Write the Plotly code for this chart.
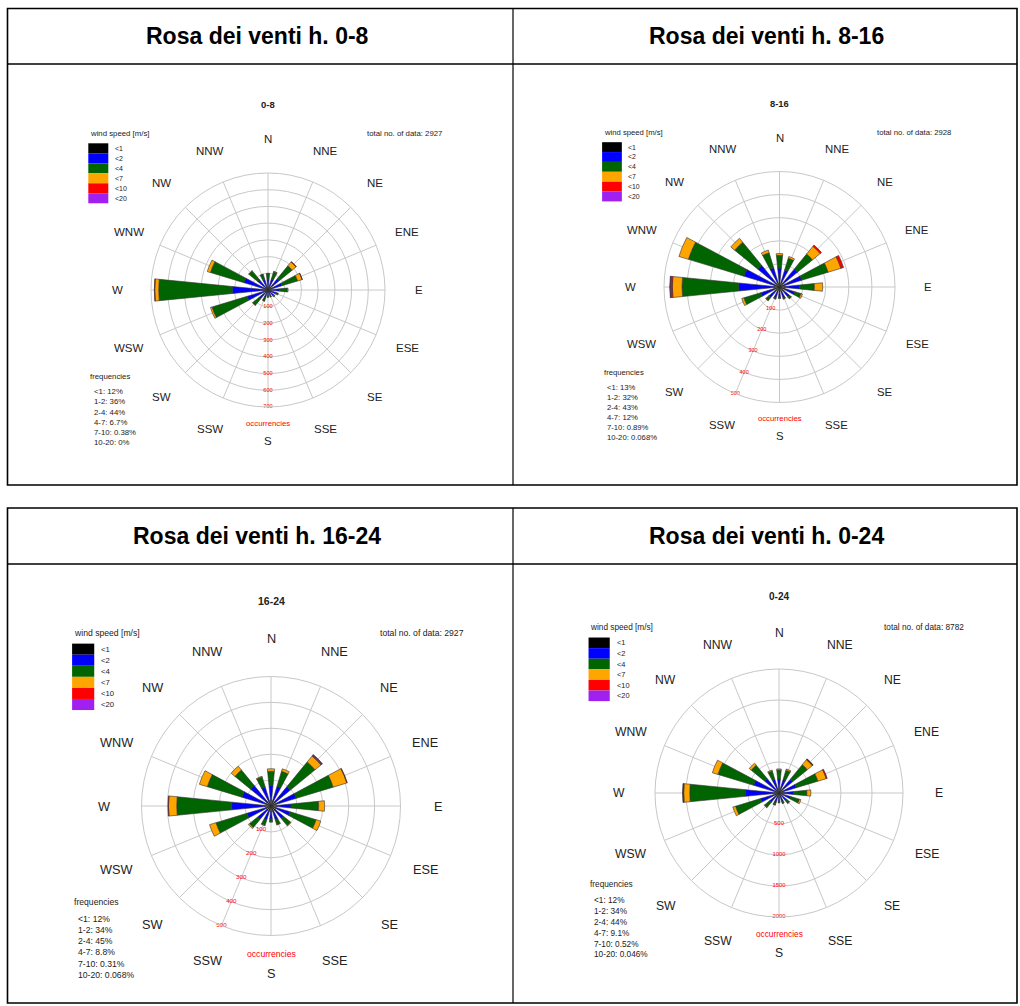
import math
import plotly.graph_objects as go

# ---------------- data ----------------
directions = ["N", "NNE", "NE", "ENE", "E", "ESE", "SE", "SSE",
              "S", "SSW", "SW", "WSW", "W", "WNW", "NW", "NNW"]
dir_angles = [0, 22.5, 45, 67.5, 90, 112.5, 135, 157.5,
              180, 202.5, 225, 247.5, 270, 292.5, 315, 337.5]

speed_labels = ["<1", "<2", "<4", "<7", "<10", "<20"]
freq_classes = ["<1", "1-2", "2-4", "4-7", "7-10", "10-20"]
speed_colors = ["#000000", "#0000ff", "#006400", "#ffa500", "#ff0000", "#a020f0"]

header_titles = ["Rosa dei venti h. 0-8", "Rosa dei venti h. 8-16",
                 "Rosa dei venti h. 16-24", "Rosa dei venti h. 0-24"]
rose_titles = ["0-8", "8-16", "16-24", "0-24"]
totals = [2927, 2928, 2927, 8782]

# occurrences per direction, per speed class (counts)
h0_8_lt1 = [20, 20, 22, 22, 20, 18, 17, 15, 15, 17, 20, 22, 24, 22, 20, 20]
h0_8_1_2 = [45, 50, 65, 65, 50, 32, 28, 23, 23, 33, 48, 108, 190, 128, 60, 45]
h0_8_2_4 = [33, 44, 100, 98, 45, 15, 10, 7, 7, 19, 50, 220, 440, 210, 68, 33]
h0_8_4_7 = [2, 3, 30, 28, 5, 0, 0, 0, 0, 1, 2, 10, 24, 20, 2, 2]
h0_8_7_10 = [0, 0, 3, 2, 0, 0, 0, 0, 0, 0, 0, 0, 2, 0, 0, 0]
h0_8_10_20 = [0, 0, 0, 0, 0, 0, 0, 0, 0, 0, 0, 0, 0, 0, 0, 0]

h8_16_lt1 = [24, 24, 24, 24, 24, 24, 24, 24, 24, 24, 24, 24, 24, 24, 24, 24]
h8_16_1_2 = [58, 53, 76, 76, 63, 45, 32, 25, 23, 25, 35, 60, 153, 136, 97, 63]
h8_16_2_4 = [55, 53, 85, 120, 64, 28, 10, 5, 3, 5, 17, 77, 245, 252, 130, 68]
h8_16_4_7 = [8, 8, 43, 58, 36, 7, 1, 1, 0, 1, 2, 10, 42, 43, 22, 12]
h8_16_7_10 = [0, 0, 7, 12, 0, 0, 0, 0, 0, 0, 0, 0, 9, 0, 0, 0]
h8_16_10_20 = [0, 0, 0, 0, 0, 0, 0, 0, 0, 0, 0, 0, 2, 0, 0, 0]

h16_24_lt1 = [22, 22, 22, 22, 22, 22, 22, 22, 22, 22, 22, 22, 22, 22, 22, 22]
h16_24_1_2 = [58, 58, 75, 80, 55, 55, 40, 33, 28, 33, 45, 75, 130, 95, 80, 55]
h16_24_2_4 = [54, 60, 123, 149, 107, 105, 36, 20, 11, 23, 41, 125, 212, 140, 78, 40]
h16_24_4_7 = [10, 10, 30, 55, 23, 19, 2, 2, 1, 2, 5, 26, 32, 32, 19, 3]
h16_24_7_10 = [0, 0, 5, 2, 0, 0, 0, 0, 0, 0, 0, 0, 2, 0, 0, 0]
h16_24_10_20 = [0, 0, 2, 0, 0, 0, 0, 0, 0, 0, 0, 0, 0, 0, 0, 0]

h0_24_lt1 = [66, 66, 68, 68, 66, 64, 63, 61, 61, 63, 66, 68, 70, 68, 66, 66]
h0_24_1_2 = [161, 161, 216, 221, 168, 132, 100, 81, 74, 91, 128, 243, 473, 359, 237, 163]
h0_24_2_4 = [142, 157, 308, 367, 216, 148, 56, 32, 21, 47, 108, 422, 897, 602, 276, 141]
h0_24_4_7 = [20, 21, 103, 141, 64, 26, 3, 3, 1, 4, 9, 46, 98, 95, 43, 17]
h0_24_7_10 = [0, 0, 15, 16, 0, 0, 0, 0, 0, 0, 0, 0, 13, 0, 0, 0]
h0_24_10_20 = [0, 0, 2, 0, 0, 0, 0, 0, 0, 0, 0, 0, 2, 0, 0, 0]

freq_0_8 = ["12%", "36%", "44%", "6.7%", "0.38%", "0%"]
freq_8_16 = ["13%", "32%", "43%", "12%", "0.89%", "0.068%"]
freq_16_24 = ["12%", "34%", "45%", "8.8%", "0.31%", "0.068%"]
freq_0_24 = ["12%", "34%", "44%", "9.1%", "0.52%", "0.046%"]

radial_ticks_0_8 = [100, 200, 300, 400, 500, 600, 700]
radial_ticks_8_16 = [100, 200, 300, 400, 500]
radial_ticks_16_24 = [100, 200, 300, 400, 500]
radial_ticks_0_24 = [500, 1000, 1500, 2000]

panel_series = [
    [h0_8_lt1, h0_8_1_2, h0_8_2_4, h0_8_4_7, h0_8_7_10, h0_8_10_20],
    [h8_16_lt1, h8_16_1_2, h8_16_2_4, h8_16_4_7, h8_16_7_10, h8_16_10_20],
    [h16_24_lt1, h16_24_1_2, h16_24_2_4, h16_24_4_7, h16_24_7_10, h16_24_10_20],
    [h0_24_lt1, h0_24_1_2, h0_24_2_4, h0_24_4_7, h0_24_7_10, h0_24_10_20],
]
panel_freqs = [freq_0_8, freq_8_16, freq_16_24, freq_0_24]
panel_ticks = [radial_ticks_0_8, radial_ticks_8_16, radial_ticks_16_24, radial_ticks_0_24]
radial_label_angle = [180, 202.5, 202.5, 180]

# ---------------- layout geometry (pixels) ----------------
W, H = 1020, 1006
centers = [(268, 290, 117), (779.5, 287, 115.5), (271, 806, 129.5), (779, 793, 124)]
FONT = "Liberation Sans, Arial, sans-serif"
GRID = "#c8c8c8"


def px(x):
    return x / W


def py(y):
    return 1 - y / H


fig = go.Figure()
annotations = []
shapes = []

for i in range(4):
    cx, cy, R = centers[i]
    s = R / 117.0
    pid = "polar" if i == 0 else f"polar{i + 1}"
    for k in range(6):
        fig.add_trace(go.Barpolar(
            r=panel_series[i][k], theta=dir_angles, width=11.25,
            marker=dict(color=speed_colors[k], line=dict(color="#333333", width=0.6)),
            subplot=pid, showlegend=False, name=speed_labels[k]))
    ticks = panel_ticks[i]
    fig.add_trace(go.Scatterpolar(
        r=ticks, theta=[radial_label_angle[i]] * len(ticks), mode="text",
        text=[str(t) for t in ticks], textfont=dict(color="#ff0000", size=5.6 * s, family=FONT),
        subplot=pid, showlegend=False, cliponaxis=False))

    fig.update_layout(**{pid: dict(
        domain=dict(x=[px(cx - R), px(cx + R)], y=[py(cy + R), py(cy - R)]),
        bgcolor="white", barmode="stack",
        radialaxis=dict(range=[0, ticks[-1]], tickvals=ticks, showticklabels=False,
                        showline=False, ticks="", gridcolor=GRID, gridwidth=1,
                        layer="above traces"),
        angularaxis=dict(direction="clockwise", rotation=90, tickvals=dir_angles,
                         showticklabels=False, ticks="", gridcolor=GRID, gridwidth=1,
                         showline=True, linecolor=GRID, linewidth=1,
                         layer="above traces"),
    )})

    # direction labels
    for name, ang in zip(directions, dir_angles):
        rr = 1.29 * R
        x = cx + rr * math.sin(math.radians(ang))
        y = cy - rr * math.cos(math.radians(ang))
        annotations.append(dict(x=px(x), y=py(y), text=name, showarrow=False,
                                xanchor="center", yanchor="middle",
                                font=dict(size=11.5 * s, color="#222222", family=FONT)))
    # rose title
    annotations.append(dict(x=px(cx), y=py(cy - 185 * s), text=f"<b>{rose_titles[i]}</b>",
                            showarrow=False, xanchor="center", yanchor="middle",
                            font=dict(size=9.5 * s, color="#222222", family=FONT)))
    # wind speed legend
    annotations.append(dict(x=px(cx - 180 * s), y=py(cy - 156.5 * s), text="wind speed [m/s]",
                            showarrow=False, xanchor="left", yanchor="middle",
                            font=dict(size=7.8 * s, color="#222222", family=FONT)))
    for k in range(6):
        y0 = cy - 146.7 * s + 10 * s * k
        shapes.append(dict(type="rect", xref="paper", yref="paper",
                           x0=px(cx - 179.7 * s), x1=px(cx - 159.7 * s),
                           y0=py(y0), y1=py(y0 + 10 * s),
                           fillcolor=speed_colors[k], line=dict(width=0)))
        annotations.append(dict(x=px(cx - 155 * s), y=py(y0 + 5 * s), text=speed_labels[k],
                                showarrow=False, xanchor="left", yanchor="middle",
                                font=dict(size=7 * s, color="#222222", family=FONT)))
    # total
    annotations.append(dict(x=px(cx + 97 * s), y=py(cy - 156.5 * s),
                            text=f"total no. of data: {totals[i]}",
                            showarrow=False, xanchor="left", yanchor="middle",
                            font=dict(size=7.8 * s, color="#222222", family=FONT)))
    # frequencies
    annotations.append(dict(x=px(cx - 180 * s), y=py(cy + 86.7 * s), text="frequencies",
                            showarrow=False, xanchor="left", yanchor="middle",
                            font=dict(size=7.8 * s, color="#222222", family=FONT)))
    for k in range(6):
        annotations.append(dict(x=px(cx - 176.5 * s), y=py(cy + 101.7 * s + 10.2 * s * k),
                                text=f"{freq_classes[k]}: {panel_freqs[i][k]}",
                                showarrow=False, xanchor="left", yanchor="middle",
                                font=dict(size=7.8 * s, color="#222222", family=FONT)))
    # occurrencies
    annotations.append(dict(x=px(cx), y=py(cy + 1.14 * R), text="occurrencies",
                            showarrow=False, xanchor="center", yanchor="middle",
                            font=dict(size=7.8 * s, color="#ff0000", family=FONT)))

# ---------------- tables ----------------
tables = [(8.5, 64, 485), (508, 564, 1003)]
XL, XM, XR = 7.5, 513, 1017
header_x = [257, 766]
for t, (top, hline, bottom) in enumerate(tables):
    shapes.append(dict(type="rect", xref="paper", yref="paper", x0=px(XL), x1=px(XR),
                       y0=py(bottom), y1=py(top), line=dict(color="#000000", width=1.6)))
    shapes.append(dict(type="line", xref="paper", yref="paper", x0=px(XL), x1=px(XR),
                       y0=py(hline), y1=py(hline), line=dict(color="#000000", width=1.6)))
    shapes.append(dict(type="line", xref="paper", yref="paper", x0=px(XM), x1=px(XM),
                       y0=py(bottom), y1=py(top), line=dict(color="#000000", width=1.2)))
    for c in range(2):
        annotations.append(dict(x=px(header_x[c]), y=py((top + hline) / 2),
                                text=f"<b>{header_titles[2 * t + c]}</b>", showarrow=False,
                                xanchor="center", yanchor="middle",
                                font=dict(size=23, color="#000000", family=FONT)))

fig.update_layout(width=W, height=H, margin=dict(l=0, r=0, t=0, b=0),
                  paper_bgcolor="white", plot_bgcolor="white",
                  annotations=annotations, shapes=shapes)

fig.write_html("out.html", config={"displayModeBar": False},
               post_script="document.body.style.margin='0';document.body.style.overflow='hidden';")
